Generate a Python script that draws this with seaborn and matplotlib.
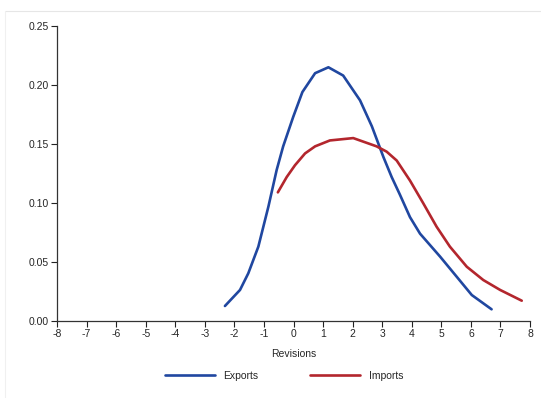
import numpy as np
import pandas as pd
import matplotlib
matplotlib.use("Agg")
import matplotlib.pyplot as plt
import seaborn as sns
from matplotlib.lines import Line2D

# Data
exports_x = [-2.32, -1.81, -1.53, -1.19, -0.85, -0.57, -0.35, -0.01, 0.30, 0.73,
             1.18, 1.68, 2.25, 2.65, 3.04, 3.32, 3.60, 3.94, 4.28, 4.96,
             5.52, 6.03, 6.70]
exports_y = [0.0127, 0.0263, 0.0404, 0.0630, 0.0969, 0.128, 0.148, 0.173, 0.194, 0.210,
             0.215, 0.208, 0.187, 0.165, 0.139, 0.122, 0.107, 0.088, 0.074, 0.0545,
             0.0375, 0.022, 0.0099]

imports_x = [-0.53, -0.23, 0.05, 0.39, 0.73, 1.23, 2.02, 2.81, 3.15, 3.49, 3.94,
             4.39, 4.84, 5.29, 5.86, 6.42, 6.99, 7.72]
imports_y = [0.109, 0.122, 0.132, 0.142, 0.148, 0.153, 0.155, 0.148, 0.1435, 0.136, 0.119,
             0.0997, 0.0799, 0.0630, 0.046, 0.0347, 0.0263, 0.0172]

x_ticks = list(range(-8, 9))
y_ticks = [0.00, 0.05, 0.10, 0.15, 0.20, 0.25]

df = pd.concat([
    pd.DataFrame({"x": exports_x, "y": exports_y, "series": "Exports"}),
    pd.DataFrame({"x": imports_x, "y": imports_y, "series": "Imports"}),
])

sns.set_style("ticks")
plt.rcParams["font.family"] = ["Liberation Sans", "DejaVu Sans"]

colors = {"Exports": "#2047a0", "Imports": "#b3262d"}

fig = plt.figure(figsize=(5.41, 3.98), dpi=100)
ax = fig.add_axes([0.1054, 0.1935, 0.8743, 0.7412])

sns.lineplot(data=df, x="x", y="y", hue="series", palette=colors, sort=False,
             estimator=None, linewidth=1.9, legend=False, ax=ax)

ax.set_xlim(-8, 8)
ax.set_ylim(0, 0.25)
ax.set_xticks(x_ticks)
ax.set_xticklabels([str(t) for t in x_ticks])
ax.set_yticks(y_ticks)
ax.set_yticklabels([f"{t:.2f}" for t in y_ticks])
ax.tick_params(labelsize=7.5, length=4, width=0.8, color="#222222", pad=2)
ax.set_xlabel("Revisions", fontsize=7.5, labelpad=7)
ax.set_ylabel("")
for s in ["top", "right"]:
    ax.spines[s].set_visible(False)
for s in ["left", "bottom"]:
    ax.spines[s].set_linewidth(0.9)
    ax.spines[s].set_color("#333333")

handles = [Line2D([], [], color=colors[k], lw=1.9) for k in ["Exports", "Imports"]]
fig.legend(handles, ["Exports", "Imports"], loc="center", bbox_to_anchor=(0.525, 0.055),
           ncol=2, frameon=False, fontsize=7.5, handlelength=4.8, columnspacing=5.0,
           handletextpad=0.8)

# faint frame lines
fig.add_artist(Line2D([0.009, 1.0], [1 - 11 / 398, 1 - 11 / 398], color="#e6e6e6", lw=0.8))
fig.add_artist(Line2D([0.009, 0.009], [0.0, 1 - 11 / 398], color="#f0f0f0", lw=0.8))

fig.savefig("out.png", dpi=100)
